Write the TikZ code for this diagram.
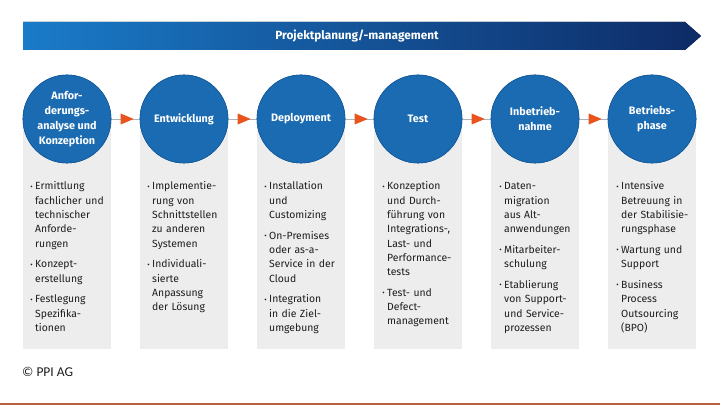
\documentclass[tikz,border=0pt]{standalone}
\usepackage{fontspec}
\setmainfont{Fira Sans}
\newfontfamily\cpfont{Carlito}
\usetikzlibrary{calc}
\definecolor{cblue}{HTML}{1B6BB2}
\definecolor{cbluedark}{HTML}{15599A}
\definecolor{bannerL}{HTML}{1A7BC9}
\definecolor{bannerR}{HTML}{0E2B66}
\definecolor{boxgray}{HTML}{EDEDED}
\definecolor{textgray}{HTML}{1E1E1E}
\definecolor{conngray}{HTML}{A8B3BC}
\definecolor{corange}{HTML}{E9531D}
\definecolor{footline}{HTML}{B9603D}
\tikzset{
  phase/.style={circle, fill=cblue, draw=cbluedark, line width=0.6pt, minimum size=88pt,
    inner sep=0pt, text=white, font=\fontsize{10.8}{15}\selectfont\bfseries, align=center},
  infobox/.style={fill=boxgray, draw=none, minimum width=88pt, minimum height=230pt,
    inner sep=0pt, anchor=north},
  bullets/.style={anchor=north west, text width=90pt, inner sep=0pt, align=left,
    font=\fontsize{10.4}{14.3}\selectfont, text=textgray},
  conn/.style={draw=conngray, line width=0.8pt},
  tri/.style={fill=corange},
  bannertext/.style={text=white, font=\fontsize{11.8}{13}\selectfont\bfseries, inner sep=0pt},
  copytext/.style={anchor=west, text=textgray, font=\cpfont\fontsize{13.5}{14}\selectfont, inner sep=0pt},
}
\newcommand\bi{\par\noindent\strut\llap{\raisebox{0.5pt}{\fontsize{7.5}{7.5}\selectfont•}\hspace{2.4pt}}}
\newcommand\bsetup{\setlength\parskip{6.4pt}}
\begin{document}
\begin{tikzpicture}[x=1pt, y=-1pt]
\useasboundingbox (0,0) rectangle (720,406);
\fill[white] (0,0) rectangle (720,406);
% banner
\fill[left color=bannerL, right color=bannerR] (23,22) -- (685,22) -- (701,36) -- (685,50) -- (23,50) -- cycle;
\node[bannertext] (ban) at (357,36) {Projektplanung/-management};
% boxes
\foreach \i/\cx in {1/67,2/184,3/301,4/418,5/535,6/652}{
  \node[infobox] (b\i) at (\cx,119) {};
}
% circles
\foreach \cx [count=\i] in {67,184,301,418,535,652}{
  \node[phase] (c\i) at (\cx,119) {};
}
% connectors
\foreach \a/\b in {1/2,2/3,3/4,4/5,5/6}{
  \draw[conn] (c\a) -- (c\b) coordinate[pos=.56] (m\a);
  \fill[tri] ($(m\a)+(-6.5,-5.5)$) -- ($(m\a)+(6.5,0)$) -- ($(m\a)+(-6.5,5.5)$) -- cycle;
}
% circle labels
\node[phase] (l1) at (c1) {Anfor-\\derungs-\\analyse und\\Konzeption};
\node[phase] (l2) at (c2) {Entwicklung};
\node[phase] (l3) at (c3) {Deployment};
\node[phase] (l4) at (c4) {Test};
\node[phase] (l5) at (c5) {Inbetrieb-\\nahme};
\node[phase] (l6) at (c6) {Betriebs-\\phase};
% bullet texts
\node[bullets] (t1) at (35,169) {\bsetup
\bi Ermittlung\newline fachlicher und\newline technischer\newline Anforde-\newline rungen
\bi Konzept-\newline erstellung
\bi Festlegung\newline Spezifika-\newline tionen};
\node[bullets] (t2) at (152,169) {\bsetup
\bi Implementie-\newline rung von\newline Schnittstellen\newline zu anderen\newline Systemen
\bi Individuali-\newline sierte\newline Anpassung\newline der Lösung};
\node[bullets] (t3) at (269,169) {\bsetup
\bi Installation\newline und\newline Customizing
\bi On-Premises\newline oder as-a-\newline Service in der\newline Cloud
\bi Integration\newline in die Ziel-\newline umgebung};
\node[bullets] (t4) at (387,169) {\bsetup
\bi Konzeption\newline und Durch-\newline führung von\newline Integrations-,\newline Last- und\newline Performance-\newline tests
\bi Test- und\newline Defect-\newline management};
\node[bullets] (t5) at (504,169) {\bsetup
\bi Daten-\newline migration\newline aus Alt-\newline anwendungen
\bi Mitarbeiter-\newline schulung
\bi Etablierung\newline von Support-\newline und Service-\newline prozessen};
\node[bullets] (t6) at (621,169) {\bsetup
\bi Intensive\newline Betreuung in\newline der Stabilisie-\newline rungsphase
\bi Wartung und\newline Support
\bi Business\newline Process\newline Outsourcing\newline (BPO)};
% footer
\node[copytext] (cp) at (22,372) {© PPI AG};
\draw[footline, line width=2pt] (0,404) -- (720,404);
\end{tikzpicture}
\end{document}
